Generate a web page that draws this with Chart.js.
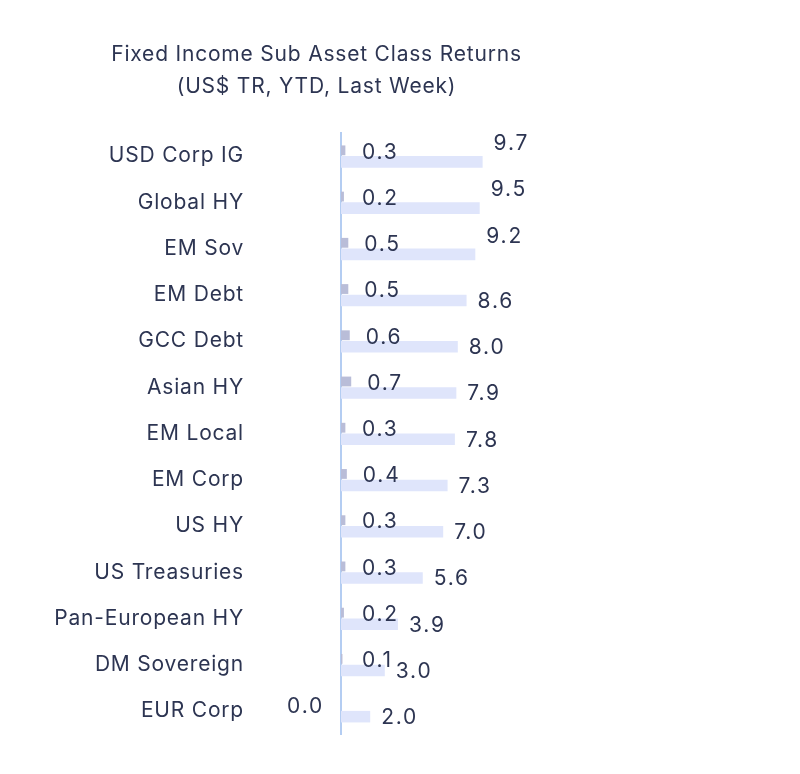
<!DOCTYPE html>
<html>
<head>
<meta charset="utf-8">
<script src="https://cdn.jsdelivr.net/npm/chart.js@4/dist/chart.umd.min.js"></script>
<style>
  body { margin: 0; background: #ffffff; }
  #wrap { position: relative; width: 640px; height: 774px; }
</style>
</head>
<body>
<div id="wrap"><canvas id="Barchart"></canvas></div>
<script>
let categories = ["USD Corp IG", "Global HY", "EM Sov", "EM Debt", "GCC Debt", "Asian HY",
    "EM Local", "EM Corp", "US HY", "US Treasuries", "Pan-European HY", "DM Sovereign", "EUR Corp"];
let lastWeek = [0.3, 0.2, 0.5, 0.5, 0.6, 0.7, 0.3, 0.4, 0.3, 0.3, 0.2, 0.1, 0.0];
let ytd = [9.7, 9.5, 9.2, 8.6, 8.0, 7.9, 7.8, 7.3, 7.0, 5.6, 3.9, 3.0, 2.0];
let titleLines = ["Fixed Income Sub Asset Class Returns", "(US$ TR, YTD, Last Week)"];

let textColor = "#2d3552";
let fontName = "Inter, 'Noto Sans', sans-serif";

// wider letters, the original font is a wide one
let spacing = {
    id: "spacing",
    beforeDraw(chart) { chart.ctx.letterSpacing = "0.8px"; }
};

// draws the value labels next to the bars
let valueLabels = {
    id: "valueLabels",
    afterDatasetsDraw(chart) {
        let ctx = chart.ctx;
        let x0 = chart.scales.x.getPixelForValue(0);
        ctx.save();
        ctx.font = "21px " + fontName;
        ctx.letterSpacing = "1.8px";
        ctx.fillStyle = textColor;
        ctx.textBaseline = "middle";
        chart.getDatasetMeta(0).data.forEach(function (bar, i) {
            let v = lastWeek[i];
            if (v === 0) {
                ctx.textAlign = "right";
                ctx.fillText(v.toFixed(1), x0 - 17, bar.y + 2);
            } else {
                ctx.textAlign = "left";
                ctx.fillText(v.toFixed(1), Math.max(x0 + 21, bar.x + 16), bar.y + 2);
            }
        });
        chart.getDatasetMeta(1).data.forEach(function (bar, i) {
            let v = ytd[i];
            ctx.textAlign = "left";
            let y = v > 9 ? bar.y - 18 : bar.y + 1;
            ctx.fillText(v.toFixed(1), bar.x + 11, y);
        });
        ctx.restore();
    }
};

let xAC = document.getElementById("Barchart");
new Chart(xAC, {
    type: "bar",
    data: {
        labels: categories,
        datasets: [{
            label: "Last Week",
            data: lastWeek,
            backgroundColor: "#b9bdd8",
            categoryPercentage: 0.5,
            barPercentage: 0.85
        }, {
            label: "YTD",
            data: ytd,
            backgroundColor: "#dfe5fb",
            categoryPercentage: 0.5,
            barPercentage: 1.0
        }]
    },
    options: {
        indexAxis: "y",
        responsive: true,
        maintainAspectRatio: false,
        devicePixelRatio: 1,
        animation: false,
        layout: { padding: { top: 0, right: 7, bottom: 40, left: 0 } },
        scales: {
            x: {
                display: false,
                min: 0,
                max: 20
            },
            y: {
                grid: { display: false, drawTicks: false },
                border: { display: true, color: "#b4cdf2", width: 2 },
                ticks: {
                    color: textColor,
                    font: { family: fontName, size: 21 },
                    padding: 97
                },
                afterFit: function (axis) {
                    axis.width = 341;
                    axis.paddingTop = 0;
                    axis.paddingBottom = 0;
                }
            }
        },
        plugins: {
            legend: { display: false },
            tooltip: { enabled: false },
            title: {
                display: true,
                text: titleLines,
                color: textColor,
                font: { family: fontName, size: 21, weight: "normal", lineHeight: 1.5 },
                padding: { top: 39, bottom: 31 }
            }
        }
    },
    plugins: [spacing, valueLabels]
});
</script>
</body>
</html>
